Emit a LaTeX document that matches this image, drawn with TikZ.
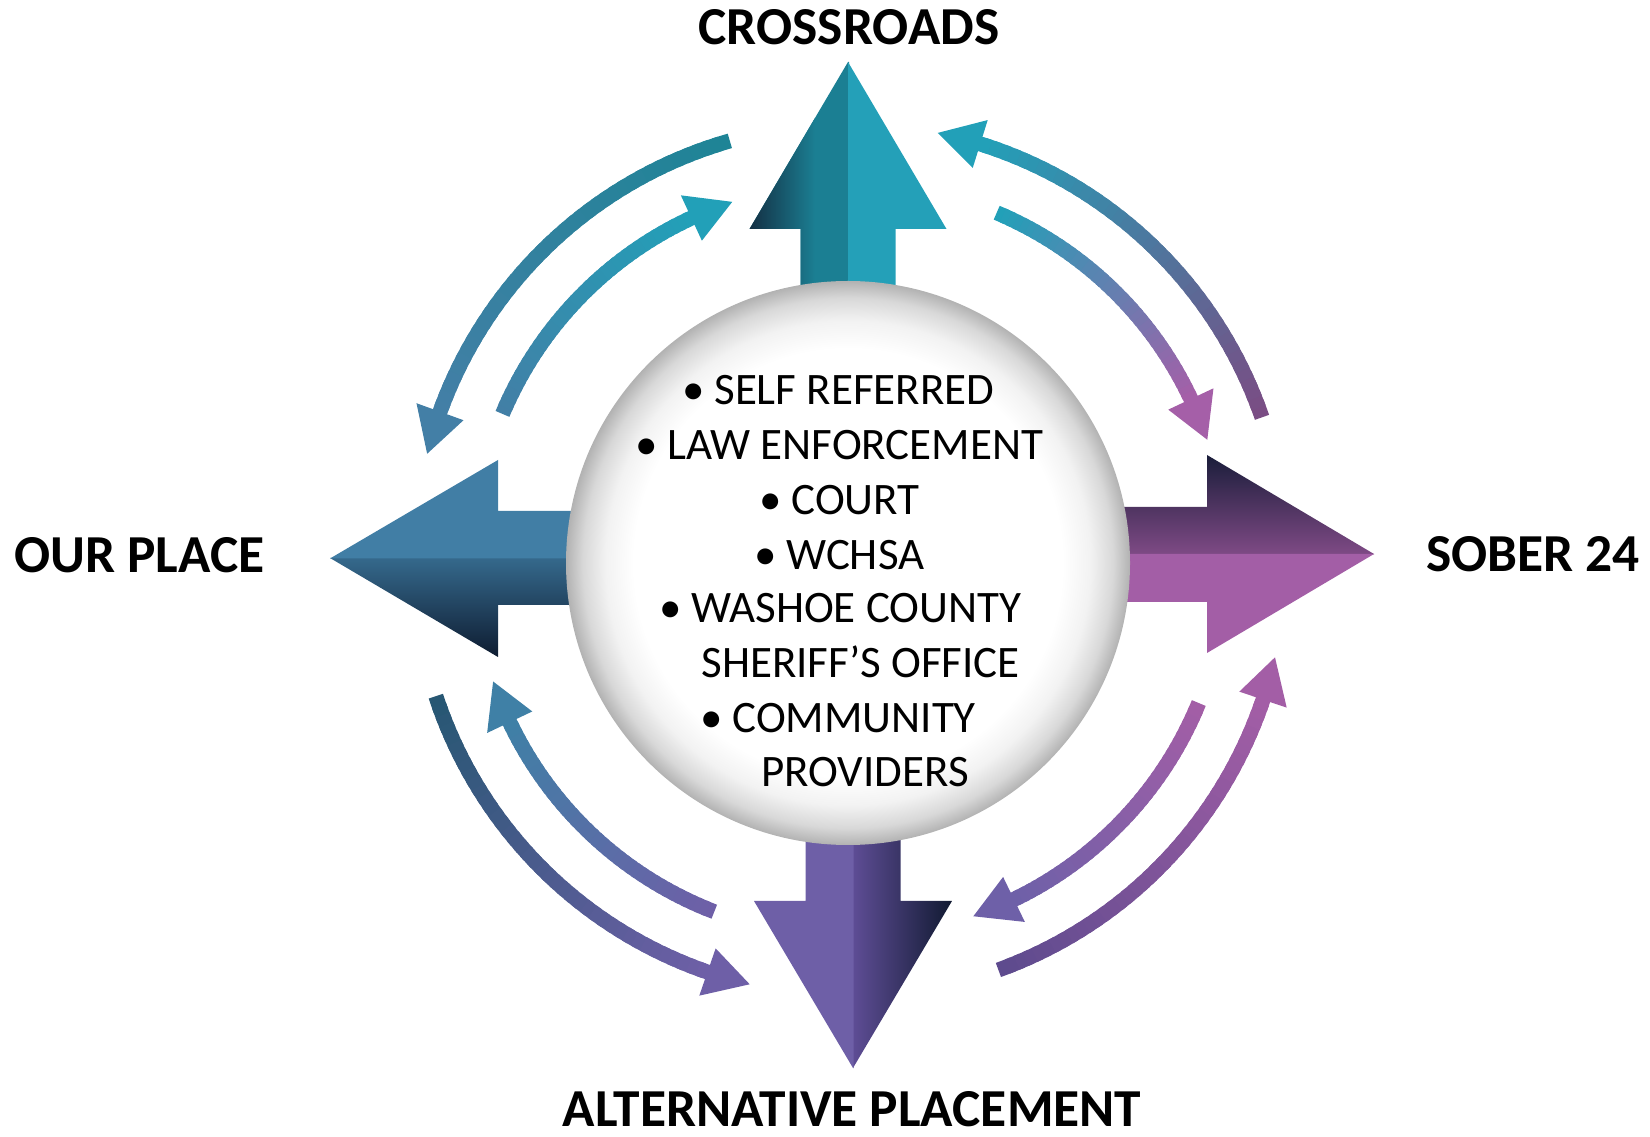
\documentclass[tikz,border=0pt]{standalone}
\usepackage{fontspec}
\setmainfont{Carlito}
\definecolor{tnavy}{HTML}{132A3E}
\definecolor{tealdk}{HTML}{1B7F93}
\definecolor{teallt}{HTML}{24A0B8}
\definecolor{lblue}{HTML}{417EA5}
\definecolor{lmidA}{HTML}{35698C}
\definecolor{lmidB}{HTML}{2B5878}
\definecolor{lbot}{HTML}{0E1C31}
\definecolor{rtop}{HTML}{1A1D3A}
\definecolor{rmid}{HTML}{603667}
\definecolor{rbot}{HTML}{7F4A85}
\definecolor{rlow}{HTML}{A35EA6}
\definecolor{bleft}{HTML}{6E5FA7}
\definecolor{bmidA}{HTML}{5E4D95}
\definecolor{bmidB}{HTML}{483875}
\definecolor{bright}{HTML}{111A32}
\definecolor{hubA}{HTML}{F2F2F2}
\definecolor{hubB}{HTML}{D8D8D8}
\definecolor{hubC}{HTML}{B2B2B2}
\definecolor{aTLos}{HTML}{1E8496}
\definecolor{aTLoe}{HTML}{437FA6}
\definecolor{aTLis}{HTML}{427FA6}
\definecolor{aTLie}{HTML}{22A0B8}
\definecolor{aTRos}{HTML}{7A4D84}
\definecolor{aTRoe}{HTML}{22A0B8}
\definecolor{aTRis}{HTML}{22A0B8}
\definecolor{aTRie}{HTML}{A55FA8}
\definecolor{aBRos}{HTML}{5E4B8E}
\definecolor{aBRoe}{HTML}{A35EA6}
\definecolor{aBRis}{HTML}{A35EA6}
\definecolor{aBRie}{HTML}{6E60A8}
\definecolor{aBLos}{HTML}{275773}
\definecolor{aBLoe}{HTML}{6E5FA7}
\definecolor{aBLis}{HTML}{6E5FA7}
\definecolor{aBLie}{HTML}{3F80A6}
\pgfdeclareradialshading{hubshade}{\pgfpoint{0bp}{0bp}}{color(0bp)=(white); color(19bp)=(white); color(21.5bp)=(hubA); color(23.5bp)=(hubB); color(25bp)=(hubC); color(50bp)=(hubC)}
% #1 radius, #2 start angle, #3 tip angle, #4 start colour, #5 end colour
\newcommand{\gradarc}[5]{%
  \pgfmathsetmacro{\gaS}{sign(#3-#2)}%
  \pgfmathsetmacro{\gaH}{44/#1*180/pi}%
  \pgfmathsetmacro{\gaB}{#3-\gaS*\gaH}%
  \pgfmathsetmacro{\gaD}{(\gaB-#2)/40}%
  \foreach \gaK in {0,...,39}{%
    \pgfmathsetmacro{\gaA}{#2+\gaK*\gaD}%
    \pgfmathsetmacro{\gaE}{#2+(\gaK+1.6)*\gaD}%
    \pgfmathtruncatemacro{\gaP}{100*\gaK/39}%
    \draw[line width=7.5pt, color=#5!\gaP!#4] ([shift={(\gaA:#1)}]ac) arc[start angle=\gaA, end angle=\gaE, radius=#1];
  }%
  \fill[#5] ([shift={(\gaB:#1-25)}]ac) -- ([shift={(#3:#1)}]ac) -- ([shift={(\gaB:#1+25)}]ac) -- cycle;
}
\begin{document}
\begin{tikzpicture}[x=0.5pt,y=0.5pt,
  lab/.style={font=\bfseries\fontsize{26.7pt}{30pt}\selectfont, inner sep=0pt, anchor=base},
  item/.style={font=\fontsize{22.5pt}{26pt}\selectfont, inner sep=0pt, anchor=base west}]
\useasboundingbox (0,0) rectangle (1650,1136);
\coordinate (ac) at (850,576);
% curved arrows
\gradarc{436}{106.0}{165.9}{aTLos}{aTLoe}
\gradarc{377}{157.2}{108.2}{aTLis}{aTLie}
\gradarc{436}{19.1}{78.4}{aTRos}{aTRoe}
\gradarc{377}{67.1}{18.6}{aTRis}{aTRie}
\gradarc{436}{-70.1}{-12.9}{aBRos}{aBRoe}
\gradarc{377}{-22.3}{-70.9}{aBRis}{aBRie}
\gradarc{436}{198.2}{256.7}{aBLos}{aBLoe}
\gradarc{377}{248.9}{198.8}{aBLis}{aBLie}
% top arrow
\begin{scope}
\clip (848,1074) -- (749.5,907) -- (800.5,907) -- (800.5,700) -- (849,700) -- (849,1074) -- cycle;
\fill[tealdk] (740,690) rectangle (850,1080);
\shade[left color=tnavy, right color=tealdk] (745,690) rectangle (815,1080);
\end{scope}
\fill[teallt] (848,1074) -- (946.5,907) -- (895.5,907) -- (895.5,700) -- (848,700) -- cycle;
% left arrow
\begin{scope}
\clip (330,578) -- (498,479) -- (498,531) -- (720,531) -- (720,578) -- cycle;
\shade[top color=lmidA, middle color=lmidB, bottom color=lbot] (320,479) rectangle (730,578);
\end{scope}
\fill[lblue] (330,577.5) -- (498,676) -- (498,625) -- (720,625) -- (720,577.5) -- cycle;
% right arrow
\begin{scope}
\clip (1374,582) -- (1207,681) -- (1207,629) -- (990,629) -- (990,581.5) -- (1374,581.5) -- cycle;
\shade[top color=rtop, middle color=rmid, bottom color=rbot] (980,581.5) rectangle (1380,681);
\end{scope}
\fill[rlow] (1374,582) -- (1207,483) -- (1207,534) -- (990,534) -- (990,582) -- cycle;
% bottom arrow
\begin{scope}
\clip (853,68) -- (952,235) -- (900.5,235) -- (900.5,440) -- (853,440) -- cycle;
\shade[left color=bmidA, middle color=bmidB, right color=bright] (853,60) rectangle (952,450);
\end{scope}
\fill[bleft] (853,68) -- (754,235) -- (805.5,235) -- (805.5,440) -- (853.5,440) -- (853.5,68) -- cycle;
% hub
\node[circle, minimum size=282pt, inner sep=0pt, shade, shading=hubshade] (hub) at (848,573) {};
% items
\node[item] (i1) at (714,731) {\llap{\textbullet\hspace{4.5pt}}SELF REFERRED};
\node[item] (i2) at (667,676) {\llap{\textbullet\hspace{4.5pt}}LAW ENFORCEMENT};
\node[item] (i3) at (791,621) {\llap{\textbullet\hspace{4.5pt}}COURT};
\node[item] (i4) at (786,566) {\llap{\textbullet\hspace{4.5pt}}WCHSA};
\node[item] (i5) at (691,513) {\llap{\textbullet\hspace{4.5pt}}WASHOE COUNTY};
\node[item] (i6) at (701,458) {SHERIFF’S OFFICE};
\node[item] (i7) at (732,403) {\llap{\textbullet\hspace{4.5pt}}COMMUNITY};
\node[item] (i8) at (761,349) {PROVIDERS};
% labels
\node[lab] (cross) at (849,1091) {CROSSROADS};
\node[lab] (ourplace) at (139.5,563) {OUR PLACE};
\node[lab] (sober) at (1533,564) {SOBER 24};
\node[lab] (alt) at (852,10) {ALTERNATIVE PLACEMENT};
\end{tikzpicture}
\end{document}
